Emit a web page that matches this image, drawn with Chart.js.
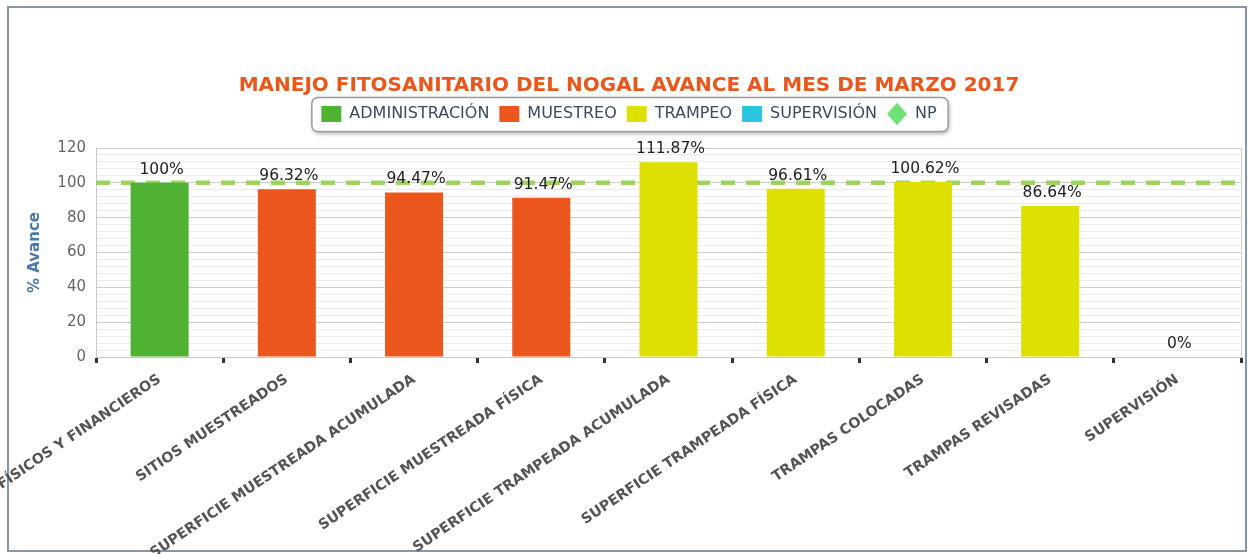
<!DOCTYPE html>
<html><head><meta charset="utf-8">
<script src="https://cdn.jsdelivr.net/npm/chart.js@4.4.1/dist/chart.umd.min.js"></script>
<style>html,body{margin:0;padding:0;background:#fff;overflow:hidden}</style>
</head><body>
<canvas id="c" width="1250" height="554"></canvas>
<script>
const categories = ['AVANCES FÍSICOS Y FINANCIEROS','SITIOS MUESTREADOS','SUPERFICIE MUESTREADA ACUMULADA','SUPERFICIE MUESTREADA FÍSICA','SUPERFICIE TRAMPEADA ACUMULADA','SUPERFICIE TRAMPEADA FÍSICA','TRAMPAS COLOCADAS','TRAMPAS REVISADAS','SUPERVISIÓN'];
const administracion = [100, null, null, null, null, null, null, null, null];
const muestreo = [null, 96.32, 94.47, 91.47, null, null, null, null, null];
const trampeo = [null, null, null, null, 111.87, 96.61, 100.62, 86.64, null];
const supervision = [null, null, null, null, null, null, null, null, 0];
const npLevel = 100;
const yMin = 0, yMax = 120, yMajorStep = 20, yMinorStep = 4;
const titleText = 'MANEJO FITOSANITARIO DEL NOGAL AVANCE AL MES DE MARZO 2017';
const yTitle = '% Avance';

const FONT = 'DejaVu Sans';

const framePlugin = {
  id: 'frame',
  beforeDraw(chart) {
    const ctx = chart.ctx;
    ctx.save();
    ctx.fillStyle = '#ffffff';
    ctx.fillRect(0, 0, chart.width, chart.height);
    ctx.strokeStyle = '#8496ac';
    ctx.lineWidth = 2;
    ctx.strokeRect(8, 7, 1238, 544);
    const lg = chart.legend;
    if (lg && lg.legendHitBoxes && lg.legendHitBoxes.length) {
      const hb = lg.legendHitBoxes;
      let l = Infinity, r = -Infinity, t = Infinity, b = -Infinity;
      hb.forEach(h => { l = Math.min(l, h.left); r = Math.max(r, h.left + h.width); t = Math.min(t, h.top); b = Math.max(b, h.top + h.height); });
      l -= 10; r += 11; t -= 9; b += 9;
      ctx.shadowColor = 'rgba(0,0,0,0.35)';
      ctx.shadowBlur = 4;
      ctx.shadowOffsetX = 1;
      ctx.shadowOffsetY = 2;
      ctx.beginPath();
      ctx.roundRect(l + 0.5, t + 0.5, r - l, b - t, 6);
      ctx.fillStyle = '#ffffff';
      ctx.fill();
      ctx.shadowColor = 'transparent';
      ctx.strokeStyle = '#9c9c9c';
      ctx.lineWidth = 1.5;
      ctx.stroke();
    }
    ctx.restore();
  }
};

const valueLabels = {
  id: 'valueLabels',
  afterDatasetsDraw(chart) {
    const ctx = chart.ctx;
    ctx.save();
    ctx.font = '15.5px "' + FONT + '"';
    ctx.fillStyle = '#222';
    ctx.textAlign = 'center';
    ctx.textBaseline = 'middle';
    chart.data.datasets.forEach((ds, di) => {
      if (ds.type !== 'bar') return;
      const meta = chart.getDatasetMeta(di);
      meta.data.forEach((el, i) => {
        const v = ds.data[i];
        if (v === null || v === undefined) return;
        ctx.fillText(String(v) + '%', el.x + 2, el.y - 13);
      });
    });
    ctx.restore();
  }
};

const barCommon = { type: 'bar', grouped: false, barPercentage: 0.57, categoryPercentage: 0.8, order: 1 };

new Chart(document.getElementById('c'), {
  type: 'bar',
  data: {
    labels: categories,
    datasets: [
      Object.assign({ label: 'ADMINISTRACIÓN', data: administracion, backgroundColor: '#4fb233' }, barCommon),
      Object.assign({ label: 'MUESTREO', data: muestreo, backgroundColor: '#eb571d' }, barCommon),
      Object.assign({ label: 'TRAMPEO', data: trampeo, backgroundColor: '#dde000' }, barCommon),
      Object.assign({ label: 'SUPERVISIÓN', data: supervision, backgroundColor: '#2bc5e2' }, barCommon),
      { type: 'line', label: 'NP', xAxisID: 'x2', data: [{x: 0, y: npLevel}, {x: 1, y: npLevel}],
        borderColor: 'rgba(145,208,80,0.9)', backgroundColor: '#6fe07a', borderWidth: 4.5, borderDash: [14, 11],
        pointRadius: 0, fill: false, order: 10 }
    ]
  },
  options: {
    responsive: false,
    animation: false,
    devicePixelRatio: 1,
    layout: { padding: { left: 17, right: 9, top: 0, bottom: 0 } },
    plugins: {
      tooltip: { enabled: false },
      title: { display: true, text: titleText, color: '#e8581c',
        font: { family: FONT, size: 20, weight: 'bold', lineHeight: 1 }, padding: { top: 76, bottom: 0 } },
      legend: {
        display: true, position: 'top',
        labels: {
          usePointStyle: true, pointStyleWidth: 20, boxHeight: 16, padding: 10,
          color: '#3a4b60', font: { family: FONT, size: 16 },
          generateLabels(chart) {
            const items = Chart.defaults.plugins.legend.labels.generateLabels(chart);
            items.forEach(it => {
              const ds = chart.data.datasets[it.datasetIndex];
              it.pointStyle = ds.type === 'line' ? 'rectRot' : 'rect';
              it.lineWidth = 0;
              it.lineDash = [];
              it.strokeStyle = 'transparent';
              it.fillStyle = ds.backgroundColor;
            });
            return items;
          }
        }
      }
    },
    scales: {
      x: {
        type: 'category', offset: true,
        grid: { offset: true, drawOnChartArea: true, drawTicks: true, tickLength: 6, tickWidth: 3, tickColor: '#333',
          color: c => c.type === 'tick' ? 'rgba(0,0,0,0)' : '#cfcfcf', lineWidth: 1 },
        border: { display: true, color: '#c8c8c8', width: 1 },
        ticks: { minRotation: 34, maxRotation: 34, autoSkip: false, color: '#555', padding: 8,
          font: { family: FONT, size: 14.3, weight: 'bold' } },
        afterFit(s) { s.paddingLeft = 0; s.paddingRight = 0; s.height = 197; }
      },
      x2: {
        type: 'linear', position: 'top', min: 0, max: 1, display: true, offset: false,
        grid: { display: false, offset: false }, border: { display: false }, ticks: { display: false },
        afterFit(s) { s.height = 16; }
      },
      y: {
        min: yMin, max: yMax,
        ticks: { stepSize: yMinorStep, autoSkip: false, color: '#666', padding: 10,
          font: { family: FONT, size: 15 },
          callback: v => (v % yMajorStep === 0 ? String(v) : '') },
        grid: { drawTicks: false, color: c => (c.tick && c.tick.value % yMajorStep === 0) ? '#cccccc' : '#ececec', lineWidth: 1 },
        border: { display: true, color: '#c8c8c8' },
        title: { display: true, text: yTitle, color: '#4a78a8', font: { family: FONT, size: 15, weight: 'bold' }, padding: { top: 9, bottom: 0 } },
        afterFit(s) { s.width = 79; }
      }
    }
  },
  plugins: [framePlugin, valueLabels]
});
</script>
</body></html>
